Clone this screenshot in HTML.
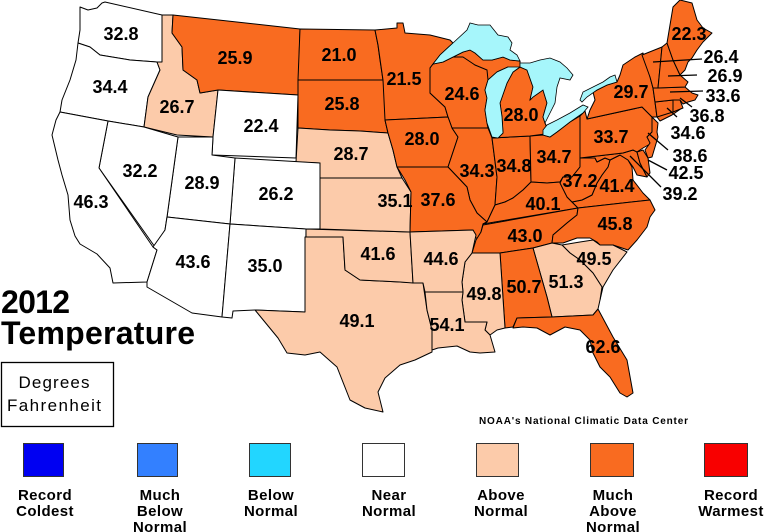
<!DOCTYPE html>
<html><head><meta charset="utf-8"><style>
html,body{margin:0;padding:0;background:#fff;}
svg{display:block;}
.s{stroke:#000;stroke-width:1;stroke-linejoin:round;}
.w{fill:#fff;}
.p{fill:#fccbaa;}
.o{fill:#f96b20;}
.l{fill:#a6f6fb;stroke:#000;stroke-width:0.8;}
.n{font-family:"Liberation Sans",Arial,sans-serif;font-weight:bold;font-size:18px;fill:#000;text-anchor:middle;}
.lg{font-family:"Liberation Sans",Arial,sans-serif;font-weight:bold;font-size:15px;fill:#000;text-anchor:middle;letter-spacing:0.4px;}
</style></head><body>
<svg width="768" height="532" viewBox="0 0 768 532" xmlns="http://www.w3.org/2000/svg">
<rect width="768" height="532" fill="#fff"/>
<g class="s">
<!-- West -->
<polygon class="w" points="80,7 88,10 97,8 102,3 105,2 162,15 162,62 157,62 130,60 100,55 90,47 78,43 80,30"/>
<polygon class="w" points="78,43 90,47 100,55 130,60 157,62 160,70 148,97 144,127 108,121 60,112 62,100 70,80 76,60"/>
<polygon class="p" points="162,15 173,15 172,33 182,47 183,70 197,80 200,93 218,90 213,137 177,135 144,127 148,97 160,70 157,62 162,62"/>
<polygon class="o" points="173,15 300,29 298,95 218,90 200,93 197,80 183,70 182,47 172,33"/>
<polygon class="w" points="218,90 298,95 296,158 212,155 213,137"/>
<polygon class="o" points="300,29 375,30 378,45 380,60 383,80 298,80"/>
<polygon class="o" points="298,80 383,80 386,95 385,120 388,133 360,131 330,130 298,128"/>
<polygon class="p" points="298,128 330,130 360,131 388,133 393,150 397,167 402,178 320,178 320,163 296,162"/>
<polygon class="w" points="235,158 320,163 320,229 306,229 230,224"/>
<polygon class="w" points="178,137 213,137 212,155 235,158 230,224 167,217"/>
<polygon class="w" points="108,121 144,127 178,137 167,217 165,230 155,247 99,168"/>
<polygon class="w" points="60,112 108,121 99,168 153,247 157,250 147,282 113,283 110,268 97,254 80,244 75,236 70,220 68,195 62,175 58,160 52,135 56,120"/>
<polygon class="w" points="167,217 230,224 222,317 192,313 147,287 147,282 157,250 153,247 165,230"/>
<polygon class="w" points="230,224 306,229 305,312 255,310 233,311 232,318 222,317"/>
<!-- Plains -->
<polygon class="p" points="305,237 343,237 345,270 360,280 400,282 423,283 427,310 432,330 432,352 415,360 400,365 385,378 378,392 383,412 365,408 350,400 337,367 320,352 305,355 287,353 278,338 255,310 305,312"/>
<polygon class="p" points="306,229 410,232 413,283 400,282 360,280 345,270 343,237 306,237"/>
<polygon class="p" points="320,178 402,178 411,192 410,232 320,229"/>
<!-- Midwest -->
<polygon class="o" points="375,30 397,28 397,23 403,23 405,33 430,35 450,40 453,43 440,55 433,64 430,68 430,93 445,107 448,117 385,120 383,80 378,45"/>
<polygon class="o" points="433,64 443,62 453,57 463,55 475,65 487,68 495,75 488,80 485,90 487,98 485,110 487,123 488,128 452,128 448,117 445,107 430,93 430,68"/>
<polygon class="o" points="385,120 448,117 452,128 458,137 448,167 397,167 393,150 388,133"/>
<polygon class="o" points="452,128 488,128 492,138 497,177 495,205 487,222 477,213 470,200 467,187 448,167 458,137"/>
<polygon class="o" points="492,138 530,136 531,182 523,190 513,198 505,202 495,205 497,177"/>
<polygon class="o" points="530,136 543,135 550,137 557,132 570,122 580,116 580,158 580,167 572,177 563,177 560,182 547,183 531,182"/>
<polygon class="o" points="492,138 498,138 503,133 502,117 500,103 507,83 513,72 520,67 527,70 533,87 530,100 533,97 543,90 547,103 543,117 545,123 548,130 545,134 530,136"/>
<polygon class="o" points="453,57 463,52 470,50 475,53 483,60 492,60 503,57 510,60 520,61 520,67 513,72 508,67 497,72 488,80 487,70 475,65 463,57"/>
<polygon class="o" points="397,167 448,167 467,187 470,200 477,213 487,222 483,224 481,232 479,238 474,238 473,230 410,232 411,192 405,180"/>
<!-- South -->
<polygon class="o" points="483,224 487,222 495,205 505,202 513,198 523,190 531,182 547,183 560,182 563,177 565,193 572,202 578,208"/>
<polygon class="o" points="483,225 578,208 577,215 567,223 553,235 552,243 533,248 500,253 472,253 476,240 481,232"/>
<polygon class="o" points="567,197 572,202 582,200 592,195 597,183 602,175 608,167 610,160 620,155 628,160 632,167 633,180 643,193 650,200 578,208"/>
<polygon class="o" points="580,158 595,158 597,162 605,158 610,160 608,167 602,175 597,183 592,195 582,200 572,202 567,197 560,183 563,177 572,177 580,167"/>
<polygon class="o" points="580,158 623,153 633,150 637,152 640,163 647,177 637,175 633,167 628,160 620,155 610,160 605,158 597,162 595,158"/>
<polygon class="o" points="637,152 643,150 648,158 650,173 647,177 640,163"/>
<polygon class="o" points="580,116 585,111 587,119 642,107 647,112 652,117 652,132 647,137 652,143 643,148 637,152 633,150 623,153 580,158"/>
<polygon class="o" points="587,119 590,110 595,100 593,92 597,90 607,85 617,82 620,75 623,65 635,57 643,53 650,77 653,88 655,102 657,117 652,117 647,112 642,107"/>
<polygon class="o" points="657,117 665,113 680,107 682,108 672,115 660,121"/>
<polygon class="o" points="652,117 658,123 657,132 658,137 655,147 652,157 648,158 645,150 650,143 647,137 652,132"/>
<polygon class="o" points="655,102 673,100 673,112 657,117"/>
<polygon class="o" points="673,100 680,100 683,108 673,112"/>
<polygon class="o" points="653,88 685,87 692,93 698,95 695,100 688,102 683,104 680,100 673,100 655,102"/>
<polygon class="o" points="642,55 662,47 658,88 653,88 650,77"/>
<polygon class="o" points="662,47 667,43 673,60 680,75 688,82 685,87 658,88"/>
<polygon class="o" points="667,43 673,7 680,0 692,3 697,20 703,28 712,33 703,42 697,50 692,58 688,62 685,70 680,75 673,60"/>
<polygon class="o" points="578,208 650,200 655,210 650,217 647,227 637,240 628,250 613,245 600,245 597,242 590,238 577,238 563,243 552,243 553,235 567,223 577,215"/>
<polygon class="p" points="562,245 580,242 593,240 600,245 613,245 627,252 613,270 603,287 600,300 602,287 593,273 580,260 570,253"/>
<polygon class="p" points="533,248 552,243 562,245 570,253 580,260 593,273 602,287 600,300 598,309 593,315 552,317 547,297"/>
<polygon class="o" points="500,253 533,248 547,297 552,317 517,318 513,327 505,328"/>
<polygon class="p" points="472,253 500,253 505,328 497,330 490,335 485,330 487,322 465,322 462,300 463,292 462,282 465,262"/>
<polygon class="p" points="425,292 463,292 462,300 465,322 487,322 485,330 490,335 495,352 480,353 470,352 457,346 438,348 432,350 432,330 427,310"/>
<polygon class="p" points="410,232 473,230 476,235 472,253 465,262 462,282 463,292 425,292 423,283 413,283"/>
<polygon class="o" points="513,328 517,318 552,317 593,315 598,309 613,337 627,360 633,393 627,397 620,393 610,377 600,367 593,353 590,340 580,330 565,327 550,335 537,328 523,327"/>
</g>
<!-- Lakes -->
<polygon class="l" points="433,64 440,55 453,43 467,30 470,23 478,25 490,25 498,35 508,37 512,43 510,50 517,55 520,61 510,60 503,57 492,60 483,60 475,53 470,50 463,52 453,57 443,62"/>
<polygon class="l" points="508,67 497,72 488,80 485,90 487,98 485,110 487,123 492,137 498,138 503,133 502,117 500,103 507,83 513,72 520,67"/>
<polygon class="l" points="520,63 530,63 540,60 550,58 560,62 567,68 573,75 570,80 560,78 557,87 555,103 548,117 545,123 543,117 547,103 543,90 533,97 530,100 533,87 527,70 520,67"/>
<polygon class="l" points="543,130 547,125 557,120 570,113 583,105 588,107 583,113 570,122 557,132 550,137 543,135"/>
<polygon class="l" points="580,100 583,92 593,87 603,82 610,77 615,75 617,82 607,85 597,90 587,97 582,102"/>
<!-- leader lines -->
<g stroke="#000" stroke-width="1.3">
<line x1="653" y1="62" x2="702" y2="59"/>
<line x1="668" y1="76" x2="697" y2="75"/>
<line x1="670" y1="92" x2="703" y2="91"/>
<line x1="680" y1="98" x2="692" y2="107"/>
<line x1="667" y1="108" x2="677" y2="117"/>
<line x1="648" y1="133" x2="668" y2="150"/>
<line x1="648" y1="160" x2="667" y2="170"/>
<line x1="630" y1="156" x2="661" y2="187"/>
</g>
<!-- state values -->
<g class="n">
<text x="121" y="40">32.8</text>
<text x="235" y="64">25.9</text>
<text x="339" y="61">21.0</text>
<text x="110" y="93">34.4</text>
<text x="177" y="113">26.7</text>
<text x="342" y="110">25.8</text>
<text x="261" y="132">22.4</text>
<text x="351" y="160">28.7</text>
<text x="140" y="177">32.2</text>
<text x="202" y="189">28.9</text>
<text x="276" y="200">26.2</text>
<text x="395" y="207">35.1</text>
<text x="91" y="208">46.3</text>
<text x="193" y="268">43.6</text>
<text x="265" y="272">35.0</text>
<text x="378" y="260">41.6</text>
<text x="357" y="327">49.1</text>
<text x="689" y="40">22.3</text>
<text x="721" y="63">26.4</text>
<text x="725" y="82">26.9</text>
<text x="723" y="102">33.6</text>
<text x="707" y="122">36.8</text>
<text x="688" y="139">34.6</text>
<text x="690" y="162">38.6</text>
<text x="686" y="179">42.5</text>
<text x="680" y="200">39.2</text>
<text x="404" y="85">21.5</text>
<text x="462" y="100">24.6</text>
<text x="521" y="121">28.0</text>
<text x="631" y="98">29.7</text>
<text x="422" y="145">28.0</text>
<text x="611" y="143">33.7</text>
<text x="477" y="177">34.3</text>
<text x="514" y="172">34.8</text>
<text x="554" y="163">34.7</text>
<text x="580" y="187">37.2</text>
<text x="617" y="192">41.4</text>
<text x="438" y="206">37.6</text>
<text x="543" y="210">40.1</text>
<text x="615" y="230">45.8</text>
<text x="525" y="242">43.0</text>
<text x="441" y="265">44.6</text>
<text x="594" y="265">49.5</text>
<text x="484" y="300">49.8</text>
<text x="524" y="293">50.7</text>
<text x="566" y="288">51.3</text>
<text x="447" y="331">54.1</text>
<text x="603" y="353">62.6</text>
</g>
<!-- Title -->
<text x="1" y="313" font-family="Liberation Sans, Arial, sans-serif" font-weight="bold" font-size="32" textLength="69">2012</text>
<text x="1" y="344" font-family="Liberation Sans, Arial, sans-serif" font-weight="bold" font-size="32" textLength="194">Temperature</text>
<rect x="1.5" y="362.5" width="112" height="64" fill="#fff" stroke="#000" stroke-width="1.3"/>
<text x="54" y="388" font-family="Liberation Sans, Arial, sans-serif" font-size="17" text-anchor="middle" textLength="71">Degrees</text>
<text x="54" y="411" font-family="Liberation Sans, Arial, sans-serif" font-size="17" text-anchor="middle" textLength="94">Fahrenheit</text>
<text x="479" y="424" font-family="Liberation Sans, Arial, sans-serif" font-weight="bold" font-size="10" textLength="209">NOAA's National Climatic Data Center</text>
<!-- Legend -->
<g stroke="#333" stroke-width="1">
<rect x="23.5" y="443.5" width="40" height="33" fill="#0000f2"/>
<rect x="137.5" y="443.5" width="40" height="33" fill="#3380ff"/>
<rect x="249.5" y="443.5" width="41" height="33" fill="#22d6ff"/>
<rect x="362.5" y="443.5" width="42" height="33" fill="#ffffff"/>
<rect x="476.5" y="443.5" width="42" height="33" fill="#fccbaa"/>
<rect x="590.5" y="443.5" width="43" height="33" fill="#f96b20"/>
<rect x="704.5" y="443.5" width="43" height="33" fill="#f80000"/>
</g>
<g class="lg">
<text x="45" y="500">Record</text><text x="45" y="516">Coldest</text>
<text x="160" y="500">Much</text><text x="160" y="516">Below</text><text x="160" y="532">Normal</text>
<text x="271" y="500">Below</text><text x="271" y="516">Normal</text>
<text x="389" y="500">Near</text><text x="389" y="516">Normal</text>
<text x="501" y="500">Above</text><text x="501" y="516">Normal</text>
<text x="613" y="500">Much</text><text x="613" y="516">Above</text><text x="613" y="532">Normal</text>
<text x="731" y="500">Record</text><text x="731" y="516">Warmest</text>
</g>
</svg>
</body></html>
